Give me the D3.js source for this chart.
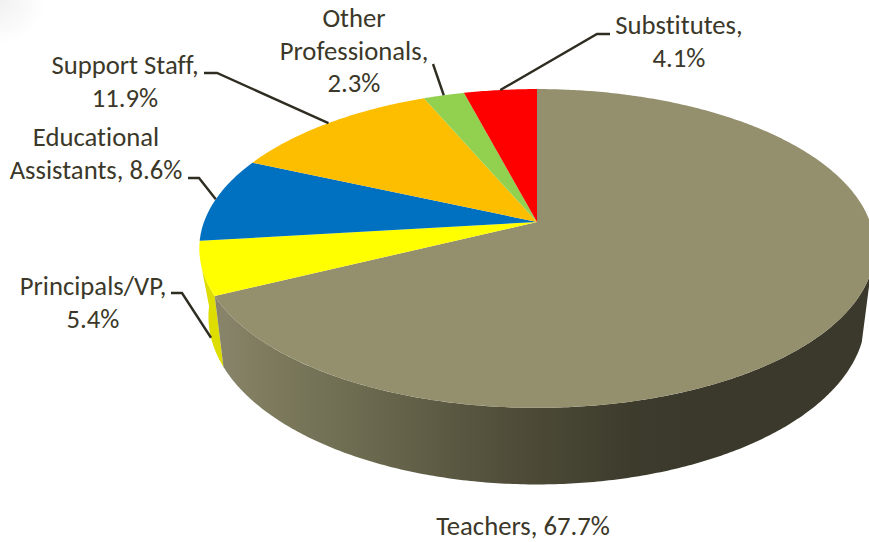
<!DOCTYPE html>
<html><head><meta charset="utf-8">
<script src="https://cdn.jsdelivr.net/npm/d3@7/dist/d3.min.js"></script>
<style>html,body{margin:0;padding:0;background:#fff}svg{display:block}text{font-variant-ligatures:none}</style>
</head><body><svg id="c" width="869" height="542"></svg>
<script>
const categories = ["Teachers","Principals/VP","Educational Assistants","Support Staff","Other Professionals","Substitutes"];
const values = [67.7,5.4,8.6,11.9,2.3,4.1];
const colors = ["#948F6C","#FFFF00","#0070C0","#FDBE00","#92D050","#FF0000"];
const labelLines = [
  ["Teachers, 67.7%"],
  ["Principals/VP,","5.4%"],
  ["Educational","Assistants, 8.6%"],
  ["Support Staff,","11.9%"],
  ["Other","Professionals,","2.3%"],
  ["Substitutes,","4.1%"]
];

// layout, kept apart from the data
const labelPos = [[523,535],[93,295],[96,146],[125,74],[354,27],[679,34]];
const leaderStart = [null,[[171,293],[182,293]],[[188,178],[199,178]],[[204,73],[217,73]],[[433,64]],[[610,34],[597,34]]];
const cx=537, cy=222, K=-0.166, rimTop={a:155,b:333,y:0}, rimLow={a:163,b:324,y:67};
const proj=(th,r)=>{const u=Math.sin(th),v=-Math.cos(th),d=1+K*v;return [cx+r.b*u/d, cy+r.y+r.a*v/d];};
const arcPts=(a0,a1,r)=>{const n=Math.max(2,Math.ceil(Math.abs(a1-a0)/0.01));return d3.range(n+1).map(i=>proj(a0+(a1-a0)*i/n,r));};
const line=d3.line();
const rad=d=>d*Math.PI/180;

const arcs=d3.pie().sort(null).value(d=>d)(values);
const svg=d3.select("#c");
const defs=svg.append("defs");
const g=defs.append("linearGradient").attr("id","wall").attr("gradientUnits","userSpaceOnUse")
  .attr("x1",220).attr("x2",690).attr("y1",0).attr("y2",0);
[[0,"#88846A"],[0.1,"#7E7B5E"],[0.3,"#6C6B50"],[0.6,"#514E3A"],[0.88,"#3D3B2C"],[1,"#3B392B"]]
  .forEach(s=>g.append("stop").attr("offset",s[0]).attr("stop-color",s[1]));
const vg=defs.append("radialGradient").attr("id","corner").attr("gradientUnits","userSpaceOnUse")
  .attr("cx",0).attr("cy",0).attr("r",45);
vg.append("stop").attr("offset",0).attr("stop-color","#f1f1f1");
vg.append("stop").attr("offset",1).attr("stop-color","#ffffff");
svg.append("rect").attr("width",45).attr("height",45).attr("fill","url(#corner)");

// side walls: silhouette angles where the wall leaves the rim
const tEnd=arcs[0].endAngle;
svg.append("path").attr("fill","#DDDD00")
  .attr("d",line(arcPts(rad(255),tEnd,rimTop).concat(arcPts(tEnd,rad(264),rimLow)))+"Z");
svg.append("path").attr("fill","url(#wall)")
  .attr("d",line(arcPts(rad(108),tEnd,rimTop).concat(arcPts(tEnd,rad(108),rimLow)))+"Z");

// top face
svg.append("g").selectAll("path").data(arcs).join("path")
  .attr("fill",(d,i)=>colors[i])
  .attr("d",d=>line([[cx,cy]].concat(arcPts(d.startAngle,d.endAngle,rimTop)))+"Z");

// leader lines
const mid=d=>(d.startAngle+d.endAngle)/2;
svg.append("g").selectAll("path").data(arcs.slice(1)).join("path")
  .attr("fill","none").attr("stroke","#2F2D21").attr("stroke-width",2.4)
  .attr("d",(d,i)=>line(leaderStart[i+1].concat([proj(mid(d),i===0?rimLow:rimTop)])));

// labels
const t=svg.append("g").attr("font-family","Carlito, Calibri, Lato, sans-serif").attr("font-size",26.7)
  .attr("fill","#3B3829").attr("text-anchor","middle");
labelLines.forEach((ls,i)=>ls.forEach((s,j)=>
  t.append("text").attr("x",labelPos[i][0]).attr("y",labelPos[i][1]+j*32.5).text(s)));
</script></body></html>
